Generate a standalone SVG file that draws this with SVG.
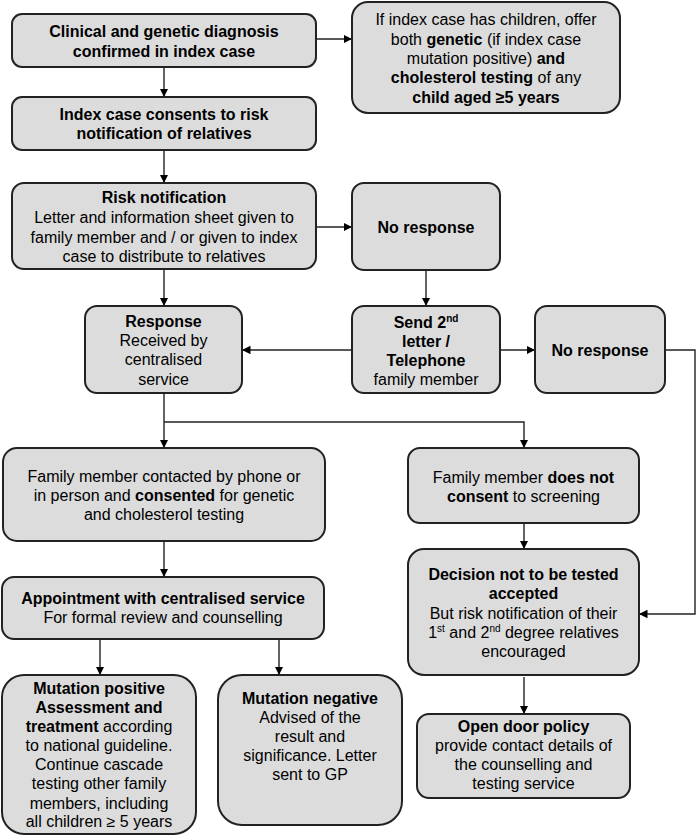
<svg xmlns="http://www.w3.org/2000/svg" width="697" height="837" viewBox="0 0 697 837">
<style>
.box{fill:#dcdcdc;stroke:#222;stroke-width:2}
text{font-family:"Liberation Sans",Arial,sans-serif;font-size:16px;fill:#000;text-anchor:middle}
.b{font-weight:bold}
.c{fill:none;stroke:#222;stroke-width:1.4}
.sup{font-size:10px}
</style>
<defs>
<marker id="ah" markerUnits="userSpaceOnUse" markerWidth="9" markerHeight="9" refX="8.5" refY="4.25" orient="auto">
<path d="M0,0 L8.5,4.25 L0,8.5 z" fill="#000"/>
</marker>
</defs>
<rect width="697" height="837" fill="#fff"/>

<g id="connectors">
<line class="c" x1="164" y1="67" x2="164" y2="97" marker-end="url(#ah)"/>
<line class="c" x1="316" y1="39" x2="352" y2="39" marker-end="url(#ah)"/>
<line class="c" x1="164" y1="150" x2="164" y2="183" marker-end="url(#ah)"/>
<line class="c" x1="316" y1="227" x2="352" y2="227" marker-end="url(#ah)"/>
<line class="c" x1="164" y1="269" x2="164" y2="306" marker-end="url(#ah)"/>
<line class="c" x1="426" y1="270" x2="426" y2="306" marker-end="url(#ah)"/>
<line class="c" x1="352" y1="350" x2="242" y2="350" marker-end="url(#ah)"/>
<line class="c" x1="500" y1="350" x2="535" y2="350" marker-end="url(#ah)"/>
<polyline class="c" points="665,350 695,350 695,614 639,614" marker-end="url(#ah)"/>
<line class="c" x1="164" y1="393" x2="164" y2="448" marker-end="url(#ah)"/>
<polyline class="c" points="164,422 524,422 524,448" marker-end="url(#ah)"/>
<line class="c" x1="164" y1="541" x2="164" y2="577" marker-end="url(#ah)"/>
<line class="c" x1="524" y1="523" x2="524" y2="549" marker-end="url(#ah)"/>
<line class="c" x1="100" y1="639" x2="100" y2="675" marker-end="url(#ah)"/>
<line class="c" x1="279" y1="639" x2="279" y2="675" marker-end="url(#ah)"/>
<line class="c" x1="524" y1="677" x2="524" y2="714" marker-end="url(#ah)"/>
</g>

<g id="diagnosis">
<rect class="box" x="12" y="14" width="304" height="53" rx="10"/>
<text class="b" x="164" y="37">Clinical and genetic diagnosis</text>
<text class="b" x="164" y="57">confirmed in index case</text>
</g>

<g id="children">
<rect class="box" x="352" y="2" width="268" height="111" rx="16"/>
<text x="486" y="25">If index case has children, offer</text>
<text x="486" y="45">both <tspan class="b">genetic</tspan> (if index case</text>
<text x="486" y="64">mutation positive) <tspan class="b">and</tspan></text>
<text x="486" y="83"><tspan class="b">cholesterol testing</tspan> of any</text>
<text class="b" x="486" y="103">child aged ≥5 years</text>
</g>

<g id="consent">
<rect class="box" x="12" y="97" width="304" height="53" rx="10"/>
<text class="b" x="164" y="120">Index case consents to risk</text>
<text class="b" x="164" y="139">notification of relatives</text>
</g>

<g id="risk">
<rect class="box" x="12" y="183" width="304" height="86" rx="12"/>
<text class="b" x="164" y="203">Risk notification</text>
<text x="164" y="223">Letter and information sheet given to</text>
<text x="164" y="243">family member and / or given to index</text>
<text x="164" y="262">case to distribute to relatives</text>
</g>

<g id="noresponse1">
<rect class="box" x="352" y="183" width="148" height="87" rx="12"/>
<text class="b" x="426" y="233">No response</text>
</g>

<g id="response">
<rect class="box" x="85" y="306" width="157" height="87" rx="12"/>
<text class="b" x="163.5" y="327">Response</text>
<text x="163.5" y="346">Received by</text>
<text x="163.5" y="365">centralised</text>
<text x="163.5" y="385">service</text>
</g>

<g id="send2">
<rect class="box" x="352" y="306" width="148" height="87" rx="12"/>
<text class="b" x="426" y="328">Send 2<tspan class="sup" dy="-6">nd</tspan></text>
<text class="b" x="426" y="347">letter /</text>
<text class="b" x="426" y="366">Telephone</text>
<text x="426" y="385">family member</text>
</g>

<g id="noresponse2">
<rect class="box" x="535" y="306" width="130" height="87" rx="12"/>
<text class="b" x="600" y="356">No response</text>
</g>

<g id="contacted">
<rect class="box" x="3" y="448" width="322" height="93" rx="14"/>
<text x="164" y="482">Family member contacted by phone or</text>
<text x="164" y="501">in person and <tspan class="b">consented</tspan> for genetic</text>
<text x="164" y="520">and cholesterol testing</text>
</g>

<g id="noconsent">
<rect class="box" x="408" y="448" width="231" height="75" rx="12"/>
<text x="523.5" y="483">Family member <tspan class="b">does not</tspan></text>
<text x="523.5" y="502"><tspan class="b">consent</tspan> to screening</text>
</g>

<g id="appointment">
<rect class="box" x="2" y="577" width="322" height="62" rx="12"/>
<text class="b" x="163" y="604">Appointment with centralised service</text>
<text x="163" y="623">For formal review and counselling</text>
</g>

<g id="decision">
<rect class="box" x="408" y="549" width="231" height="126" rx="16"/>
<text class="b" x="523.5" y="580">Decision not to be tested</text>
<text class="b" x="523.5" y="599">accepted</text>
<text x="523.5" y="619">But risk notification of their</text>
<text x="523.5" y="638">1<tspan class="sup" dy="-6">st</tspan><tspan dy="6"> and 2</tspan><tspan class="sup" dy="-6">nd</tspan><tspan dy="6"> degree relatives</tspan></text>
<text x="523.5" y="657">encouraged</text>
</g>

<g id="mutpositive">
<rect class="box" x="2" y="675" width="194" height="159" rx="22"/>
<text class="b" x="99" y="694">Mutation positive</text>
<text class="b" x="99" y="713">Assessment and</text>
<text x="99" y="732"><tspan class="b">treatment</tspan> according</text>
<text x="99" y="751">to national guideline.</text>
<text x="99" y="770">Continue cascade</text>
<text x="99" y="789">testing other family</text>
<text x="99" y="809">members, including</text>
<text x="99" y="827">all children ≥ 5 years</text>
</g>

<g id="mutnegative">
<rect class="box" x="218" y="675" width="184" height="150" rx="24"/>
<text class="b" x="310" y="704">Mutation negative</text>
<text x="310" y="723">Advised of the</text>
<text x="310" y="742">result and</text>
<text x="310" y="761">significance. Letter</text>
<text x="310" y="780">sent to GP</text>
</g>

<g id="opendoor">
<rect class="box" x="417" y="714" width="213" height="84" rx="12"/>
<text class="b" x="523.5" y="732">Open door policy</text>
<text x="523.5" y="751">provide contact details of</text>
<text x="523.5" y="770">the counselling and</text>
<text x="523.5" y="789">testing service</text>
</g>
</svg>
